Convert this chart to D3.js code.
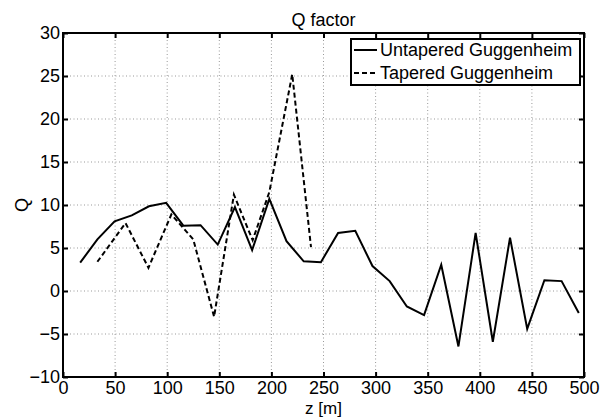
<!DOCTYPE html>
<html><head><meta charset="utf-8">
<script src="https://cdn.jsdelivr.net/npm/d3@7"></script>
<style>body{margin:0;background:#fff}svg{display:block;font-family:"Liberation Sans",Arial,sans-serif}</style>
</head><body><svg id="c" width="602" height="417"></svg>
<script>
const untaperedZ = [16.5,33,49.5,66,82.5,99,115.5,132,148.5,165,181.5,198,214.5,231,247.5,264,280.5,297,313.5,330,346.5,363,379.5,396,412.5,429,445.5,462,478.5,495];
const untaperedQ = [3.3,6.0,8.1,8.8,9.85,10.25,7.6,7.65,5.4,9.75,4.75,10.7,5.8,3.45,3.35,6.75,7.0,2.9,1.15,-1.8,-2.8,3.05,-6.45,6.75,-5.9,6.2,-4.4,1.25,1.15,-2.55];
const taperedZ = [33,60,82,104,125,145,164,182,198,220,238];
const taperedQ = [3.4,7.9,2.7,8.9,6.0,-3.0,11.2,5.9,11.5,25.2,5.1];
const xTicks = [0,50,100,150,200,250,300,350,400,450,500];
const yTicks = [-10,-5,0,5,10,15,20,25,30];
const title = "Q factor", xLabel = "z [m]", yLabel = "Q";
const legendLabels = ["Untapered Guggenheim","Tapered Guggenheim"];

const L=63,R=584,T=33,B=377;
const FS=18;
const svg=d3.select("#c");
const x=d3.scaleLinear().domain([0,500]).range([L,R]);
const y=d3.scaleLinear().domain([-10,30]).range([B,T]);
const fmt=d=>d<0?"\u2212"+Math.abs(d):String(d);

// grid
const g=svg.append("g");
g.selectAll(".gx").data(xTicks.slice(1,-1)).enter().append("line")
 .attr("x1",d=>x(d)).attr("x2",d=>x(d)).attr("y1",T).attr("y2",B)
 .attr("stroke","#999").attr("stroke-width",1).attr("stroke-dasharray","1,2.5");
g.selectAll(".gy").data(yTicks.slice(1,-1)).enter().append("line")
 .attr("y1",d=>y(d)).attr("y2",d=>y(d)).attr("x1",L).attr("x2",R)
 .attr("stroke","#999").attr("stroke-width",1).attr("stroke-dasharray","1,2.5");

// axes
const ax=d3.axisBottom(x).tickValues(xTicks).tickSize(-5).tickPadding(4).tickFormat(fmt);
const ay=d3.axisLeft(y).tickValues(yTicks).tickSize(-5).tickPadding(3).tickFormat(fmt);
const axT=d3.axisTop(x).tickValues(xTicks).tickSize(-5).tickFormat("");
const ayR=d3.axisRight(y).tickValues(yTicks).tickSize(-5).tickFormat("");
function style(s){s.select(".domain").remove();s.selectAll("line").attr("stroke","#000").attr("stroke-width",2);s.selectAll("text").attr("font-size",FS).attr("fill","#000").attr("font-family","Liberation Sans, Arial, sans-serif");}
svg.append("g").attr("transform",`translate(0,${B})`).call(ax).call(style);
svg.append("g").attr("transform",`translate(${L},0)`).call(ay).call(style);
svg.append("g").attr("transform",`translate(0,${T})`).call(axT).call(style);
svg.append("g").attr("transform",`translate(${R},0)`).call(ayR).call(style);

// lines
const line=d3.line().x(d=>x(d[0])).y(d=>y(d[1]));
svg.append("path").datum(untaperedZ.map((z,i)=>[z,untaperedQ[i]])).attr("d",line)
 .attr("fill","none").attr("stroke","#000").attr("stroke-width",2).attr("stroke-linejoin","miter");
svg.append("path").datum(taperedZ.map((z,i)=>[z,taperedQ[i]])).attr("d",line)
 .attr("fill","none").attr("stroke","#000").attr("stroke-width",2).attr("stroke-dasharray","5,3");

// box
svg.append("rect").attr("x",L).attr("y",T).attr("width",R-L).attr("height",B-T)
 .attr("fill","none").attr("stroke","#000").attr("stroke-width",2);

// title & labels
svg.append("text").attr("x",(L+R)/2).attr("y",26).attr("text-anchor","middle").attr("font-size",FS).text(title);
svg.append("text").attr("x",(L+R)/2).attr("y",413.5).attr("text-anchor","middle").attr("font-size",17).text(xLabel);
svg.append("text").attr("transform",`translate(28,${(T+B)/2}) rotate(-90)`).attr("text-anchor","middle").attr("font-size",FS).text(yLabel);

// legend
const lg=svg.append("g");
lg.append("rect").attr("x",351).attr("y",39).attr("width",229).attr("height",46)
 .attr("fill","#fff").attr("stroke","#000").attr("stroke-width",2);
const rows=[{t:legendLabels[0],dash:null,yy:50},{t:legendLabels[1],dash:"5,3",yy:73}];
rows.forEach(r=>{
 lg.append("line").attr("x1",354).attr("x2",377).attr("y1",r.yy).attr("y2",r.yy)
  .attr("stroke","#000").attr("stroke-width",2).attr("stroke-dasharray",r.dash);
 lg.append("text").attr("x",380).attr("y",r.yy+6).attr("font-size",FS).text(r.t);
});
</script></body></html>
